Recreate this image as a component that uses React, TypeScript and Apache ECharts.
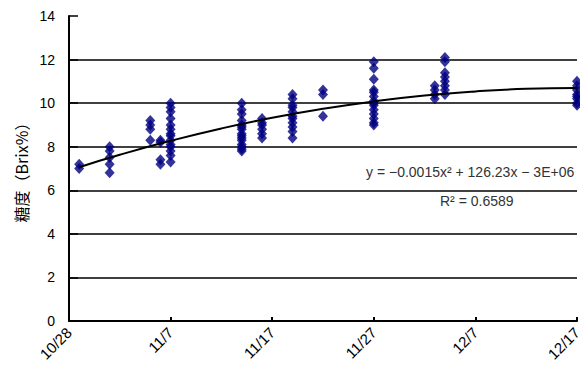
import React, { useEffect, useRef } from "react";
import * as echarts from "echarts";

// sampling dates (M/D, year 2014) and Brix readings on each date
const sampleDates = ["10/29", "11/1", "11/5", "11/6", "11/7", "11/14", "11/16", "11/19", "11/22", "11/27", "12/3", "12/4", "12/17"];
const brixValues: number[][] = [
  [7.2, 7.0],
  [8.0, 7.8, 7.5, 7.2, 6.8],
  [9.2, 9.0, 8.8, 8.3],
  [8.3, 8.2, 7.4, 7.2],
  [10.0, 9.8, 9.6, 9.3, 9.0, 8.8, 8.6, 8.5, 8.3, 8.1, 8.0, 7.8, 7.6, 7.3],
  [10.0, 9.7, 9.5, 9.2, 9.0, 8.9, 8.8, 8.6, 8.5, 8.4, 8.3, 8.1, 8.0, 7.9, 7.8],
  [9.3, 9.1, 9.0, 8.8, 8.6, 8.4],
  [10.4, 10.2, 9.9, 9.8, 9.6, 9.4, 9.3, 9.1, 8.9, 8.7, 8.4],
  [10.6, 10.4, 9.4],
  [11.9, 11.6, 11.1, 10.6, 10.5, 10.3, 10.1, 10.0, 9.9, 9.7, 9.5, 9.3, 9.1, 9.0],
  [10.8, 10.6, 10.4, 10.2],
  [12.1, 11.9, 11.4, 11.2, 11.0, 10.8, 10.6, 10.4],
  [11.0, 10.8, 10.6, 10.4, 10.3, 10.2, 10.0, 9.9],
];

// trendline
const trendDates = ["10/29", "11/2", "11/7", "11/12", "11/17", "11/22", "11/27", "12/2", "12/7", "12/12", "12/17"];
const trendValues = [7.06, 7.63, 8.27, 8.84, 9.33, 9.74, 10.08, 10.35, 10.54, 10.66, 10.7];

const xTickLabels = ["10/28", "11/7", "11/17", "11/27", "12/7", "12/17"];
const yGridValues = [2, 4, 6, 8, 10, 12];
const equationText = "y = −0.0015x² + 126.23x − 3E+06";
const r2Text = "R² = 0.6589";

const YEAR = 2014;
const BASE = Date.UTC(YEAR, 9, 28);
const DAY = 86400000;
function toDay(md: string): number {
  const [m, d] = md.split("/").map(Number);
  return Math.round((Date.UTC(YEAR, m - 1, d) - BASE) / DAY);
}
function fromDay(v: number): string {
  const dt = new Date(BASE + v * DAY);
  return `${dt.getUTCMonth() + 1}/${dt.getUTCDate()}`;
}

const FONT = "'Liberation Sans', Arial, 'Noto Sans CJK JP', sans-serif";

export default function App() {
  const ref = useRef<HTMLDivElement>(null);
  useEffect(() => {
    if (!ref.current) return;
    const chart = echarts.init(ref.current, null, { renderer: "svg" });
    const points: number[][] = [];
    sampleDates.forEach((d, i) => {
      brixValues[i].forEach((v) => points.push([toDay(d), v]));
    });
    const trend = trendDates.map((d, i) => [toDay(d), trendValues[i]]);
    const xMin = toDay(xTickLabels[0]);
    const xMax = toDay(xTickLabels[xTickLabels.length - 1]);
    chart.setOption({
      animation: false,
      backgroundColor: "#fff",
      textStyle: { fontFamily: FONT },
      grid: { left: 69, right: 11, top: 16, bottom: 53, containLabel: false },
      xAxis: {
        type: "value",
        min: xMin,
        max: xMax,
        interval: 10,
        axisLine: { show: true, lineStyle: { color: "#000", width: 2 } },
        axisTick: { show: true, inside: true, length: 4, lineStyle: { color: "#000", width: 2 } },
        splitLine: { show: false },
        axisLabel: {
          rotate: 45,
          margin: 9,
          color: "#000",
          fontSize: 15,
          fontFamily: FONT,
          formatter: (v: number) => fromDay(v),
        },
      },
      yAxis: {
        type: "value",
        min: 0,
        max: 14,
        interval: 2,
        name: "糖度（Brix%）",
        nameLocation: "middle",
        nameRotate: 90,
        nameGap: 38,
        nameTextStyle: { color: "#000", fontSize: 16, fontFamily: "'Noto Sans CJK JP', sans-serif" },
        axisLine: { show: true, lineStyle: { color: "#000", width: 2 } },
        axisTick: { show: true, inside: true, length: 9, lineStyle: { color: "#000", width: 1.5 } },
        splitLine: { show: false },
        axisLabel: { color: "#000", fontSize: 14, margin: 14, fontFamily: FONT },
      },
      series: [
        {
          type: "scatter",
          data: points,
          symbol: "diamond",
          symbolSize: [10, 11],
          itemStyle: { color: "#000080" },
          z: 3,
          markLine: {
            silent: true,
            symbol: "none",
            label: { show: false },
            lineStyle: { color: "#000", width: 1.5, type: "solid" },
            data: yGridValues.map((v) => ({ yAxis: v })),
            z: 1,
          },
        },
        {
          type: "line",
          data: trend,
          smooth: true,
          showSymbol: false,
          symbol: "none",
          lineStyle: { color: "#000", width: 2 },
          z: 4,
        },
      ],
      graphic: [
        {
          type: "text",
          left: 366,
          top: 165,
          style: { text: equationText, fill: "#333", fontSize: 14, fontFamily: FONT },
        },
        {
          type: "text",
          left: 440,
          top: 194,
          style: { text: r2Text, fill: "#333", fontSize: 14, fontFamily: FONT },
        },
      ],
    });
    return () => chart.dispose();
  }, []);
  return <div ref={ref} style={{ width: 588, height: 374, margin: -8 }} />;
}
